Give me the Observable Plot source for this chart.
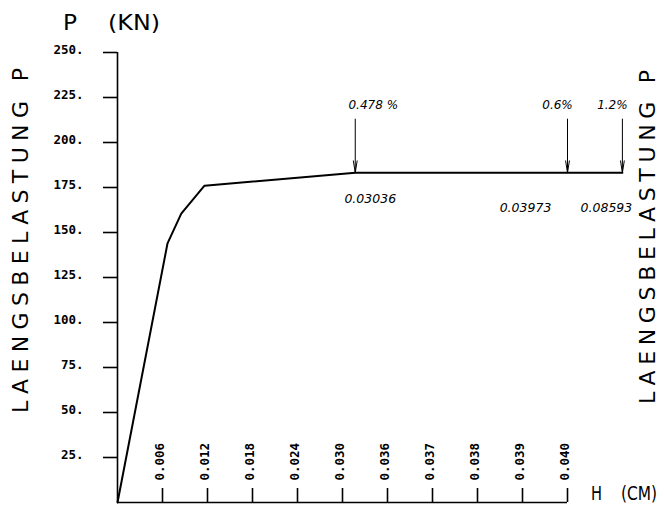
<!DOCTYPE html>
<html>
<head>
<meta charset="utf-8">
<script src="https://cdn.jsdelivr.net/npm/d3@7"></script>
<script src="https://cdn.jsdelivr.net/npm/@observablehq/plot@0.6"></script>
<style>
  html, body { margin: 0; padding: 0; background: #fff; }
  svg { display: block; }
</style>
</head>
<body>
<div id="chart"></div>
<script>
// ---- data ----
const xTickValues = [0.006, 0.012, 0.018, 0.024, 0.030, 0.036, 0.037, 0.038, 0.039, 0.040];
const xTickLabels = ["0.006", "0.012", "0.018", "0.024", "0.030", "0.036", "0.037", "0.038", "0.039", "0.040"];
const yTickValues = [25, 50, 75, 100, 125, 150, 175, 200, 225, 250];
const yTickLabels = ["25.", "50.", "75.", "100.", "125.", "150.", "175.", "200.", "225.", "250."];
const curveH = [0, 0.00667, 0.0085, 0.0116, 0.0317, 0.040, 0.08593];
const curveP = [0, 144, 160.5, 176, 183.2, 183.2, 183.2];
const markerH = [0.0317, 0.040, 0.08593];
const markerPct = ["0.478 %", "0.6%", "1.2%"];
const markerHLabel = ["0.03036", "0.03973", "0.08593"];
const arrowTopP = 213;
const flatP = 183.2;

// ---- layout ----
const W = 664, H = 508;
const mL = 117, mR = 97, mT = 52, mB = 6;
const step = (W - mL - mR) / xTickValues.length;
const xDomain = [0, ...xTickValues, 0.08593];
const xRange = [mL, ...xTickValues.map((_, i) => mL + (i + 1) * step), mL + 11.22 * step];

const curve = curveH.map((h, i) => ({h, p: curveP[i]}));
const markers = markerH.map((h, i) => ({h, pct: markerPct[i], lab: markerHLabel[i]}));

const topDx = [18, -10, -10];
const lowDx = [15, -42, -16];
const lowDy = [26, 35, 35];

const annoFont = {fontFamily: "DejaVu Sans", fontStyle: "italic"};
const tickFont = {fontFamily: "DejaVu Sans Mono", fontWeight: "bold", fontSize: 12.5};

const chart = Plot.plot({
  width: W, height: H,
  marginLeft: mL, marginRight: mR, marginTop: mT, marginBottom: mB,
  style: {background: "white", color: "black", overflow: "visible"},
  x: {type: "linear", domain: xDomain, range: xRange, axis: null},
  y: {type: "linear", domain: [0, 250], range: [H - mB, mT], axis: null},
  marks: [
    // axis lines
    Plot.ruleX([0], {y1: 0, y2: 250, strokeWidth: 1.6}),
    Plot.ruleY([0], {x1: 0, x2: 0.040, strokeWidth: 1.6}),
    // y ticks
    Plot.ruleY(yTickValues, {y: d => d, x1: 0, x2: 0, insetLeft: -14, strokeWidth: 1.6}),
    Plot.text(yTickValues, {y: d => d, text: (d, i) => yTickLabels[i], frameAnchor: "left",
      textAnchor: "end", lineAnchor: "bottom", dx: -34, dy: 1, ...tickFont}),
    // x ticks
    Plot.ruleX(xTickValues, {x: d => d, y1: 0, y2: 0, insetBottom: 14, strokeWidth: 1.6}),
    Plot.text(xTickValues, {x: d => d, text: (d, i) => xTickLabels[i], frameAnchor: "bottom",
      rotate: -90, textAnchor: "start", lineAnchor: "bottom", dy: -22, dx: 1, ...tickFont}),
    // curve
    Plot.line(curve, {x: "h", y: "p", stroke: "black", strokeWidth: 2}),
    // arrows
    Plot.arrow(markers, {x1: "h", x2: "h", y1: arrowTopP, y2: flatP, stroke: "black",
      strokeWidth: 1, headLength: 18, headAngle: 18}),
    // annotations
    ...markers.map((m, i) => Plot.text([m], {x: "h", y: arrowTopP, text: "pct", dx: topDx[i], dy: -14,
      fontSize: 12, ...annoFont})),
    ...markers.map((m, i) => Plot.text([m], {x: "h", y: flatP, text: "lab", dx: lowDx[i], dy: lowDy[i],
      fontSize: 12.5, ...annoFont}))
  ]
});

document.getElementById("chart").appendChild(chart);

// ---- axis titles ----
const svg = d3.select(chart);
const titleFont = "'DejaVu Sans', sans-serif";
function title(x, y, size, len, txt, adjust, rot) {
  const t = svg.append("text")
    .attr("text-anchor", "start")
    .attr("font-family", titleFont)
    .attr("font-size", size)
    .attr("fill", "black")
    .attr("textLength", len)
    .attr("lengthAdjust", adjust)
    .text(txt);
  if (rot) t.attr("transform", `translate(${x},${y}) rotate(-90)`);
  else t.attr("x", x).attr("y", y);
}
title(63, 30, 21, 14, "P", "spacingAndGlyphs", false);
title(108, 30, 21, 52, "(KN)", "spacingAndGlyphs", false);
title(591, 500, 19, 11, "H", "spacingAndGlyphs", false);
title(621, 500, 19, 36, "(CM)", "spacingAndGlyphs", false);
title(28, 413, 22, 345, "LAENGSBELASTUNG P", "spacing", true);
title(655, 404, 22, 334, "LAENGSBELASTUNG P", "spacing", true);
</script>
</body>
</html>
